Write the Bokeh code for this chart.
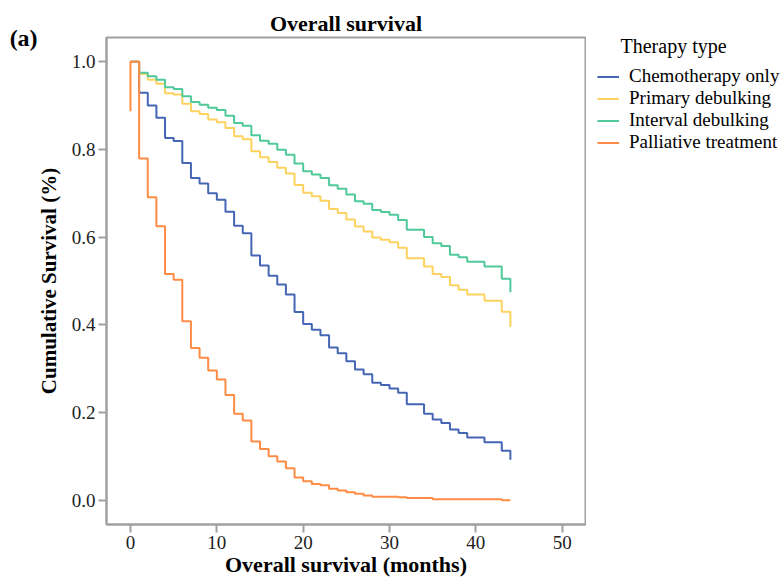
from bokeh.plotting import figure
from bokeh.layouts import row
from bokeh.models import (Range1d, FixedTicker, NumeralTickFormatter, Legend,
                          LegendItem, Label)
from bokeh.embed import file_html
from bokeh.resources import INLINE

# ---- data ----
months = list(range(0, 45))

chemo_only = [1.000, 0.929, 0.900, 0.872, 0.826, 0.819, 0.769, 0.735, 0.722, 0.700,
              0.685, 0.658, 0.626, 0.609, 0.558, 0.535, 0.512, 0.492, 0.469, 0.429,
              0.402, 0.389, 0.376, 0.348, 0.335, 0.317, 0.298, 0.287, 0.268, 0.263,
              0.255, 0.245, 0.219, 0.219, 0.197, 0.184, 0.176, 0.161, 0.153, 0.143,
              0.143, 0.132, 0.132, 0.113, 0.092]

primary_debulking = [1.000, 0.972, 0.959, 0.950, 0.928, 0.925, 0.904, 0.887, 0.881, 0.868,
                     0.862, 0.849, 0.830, 0.823, 0.796, 0.782, 0.771, 0.758, 0.745, 0.719,
                     0.701, 0.693, 0.683, 0.664, 0.655, 0.640, 0.624, 0.613, 0.599, 0.594,
                     0.588, 0.576, 0.552, 0.552, 0.533, 0.516, 0.509, 0.490, 0.480, 0.469,
                     0.469, 0.455, 0.455, 0.430, 0.395]

interval_debulking = [1.000, 0.975, 0.967, 0.959, 0.942, 0.938, 0.921, 0.908, 0.902, 0.895,
                      0.890, 0.877, 0.860, 0.854, 0.832, 0.820, 0.813, 0.799, 0.788, 0.768,
                      0.750, 0.743, 0.735, 0.718, 0.710, 0.697, 0.682, 0.676, 0.662, 0.657,
                      0.651, 0.639, 0.617, 0.617, 0.600, 0.586, 0.580, 0.560, 0.554, 0.544,
                      0.544, 0.533, 0.533, 0.505, 0.474]

palliative_months = [0] + months
palliative = [0.887, 1.000, 0.779, 0.691, 0.625, 0.516, 0.503, 0.408, 0.347, 0.325, 0.296,
              0.275, 0.240, 0.197, 0.182, 0.134, 0.117, 0.100, 0.088, 0.073, 0.052,
              0.043, 0.037, 0.034, 0.026, 0.022, 0.018, 0.015, 0.011, 0.008, 0.008,
              0.008, 0.007, 0.005, 0.005, 0.005, 0.002, 0.002, 0.002, 0.002, 0.002,
              0.002, 0.002, 0.002, 0.000, 0.000]

series_names = ["Chemotherapy only", "Primary debulking", "Interval debulking",
                "Palliative treatment"]
colors = ["#4565b5", "#fdd25e", "#50c99a", "#ff8c45"]

x_ticks = [0, 10, 20, 30, 40, 50]
y_ticks = [0.0, 0.2, 0.4, 0.6, 0.8, 1.0]

SERIF = "Liberation Serif"

y_range = Range1d(-0.0554, 1.0552)

# ---- main plot ----
p = figure(width=586, height=581, output_backend="svg", toolbar_location=None,
           x_range=Range1d(-2.78, 52.70), y_range=y_range,
           title="Overall survival",
           min_border_left=106, min_border_top=37, min_border_right=1,
           min_border_bottom=57)

p.title.text_font = SERIF
p.title.text_font_size = "22px"
p.title.text_font_style = "bold"
p.title.align = "center"
p.title.standoff = 3
p.title.text_color = "black"

p.xgrid.visible = False
p.ygrid.visible = False
p.outline_line_color = "#a0a0a0"
p.outline_line_width = 2
p.outline_line_alpha = 1.0

for ax in (p.xaxis[0], p.yaxis[0]):
    ax.axis_line_color = "#a0a0a0"
    ax.axis_line_width = 2
    ax.major_tick_line_color = "#a0a0a0"
    ax.major_tick_line_width = 2
    ax.major_tick_out = 8
    ax.major_tick_in = 0
    ax.minor_tick_line_color = None
    ax.major_label_text_font = SERIF
    ax.major_label_text_font_size = "19px"
    ax.major_label_text_color = "#222222"
    ax.major_label_standoff = 3
    ax.axis_label_text_font = SERIF
    ax.axis_label_text_font_style = "bold"
    ax.axis_label_text_color = "black"

p.xaxis.ticker = FixedTicker(ticks=x_ticks)
p.yaxis.ticker = FixedTicker(ticks=y_ticks)
p.yaxis.formatter = NumeralTickFormatter(format="0.0")
p.xaxis.axis_label = "Overall survival (months)"
p.yaxis.axis_label = "Cumulative Survival (%)"
p.xaxis.axis_label_text_font_size = "22px"
p.yaxis.axis_label_text_font_size = "21px"
p.xaxis.axis_label_standoff = 0
p.yaxis.axis_label_standoff = 8

data_x = [months, months, months, palliative_months]
data_y = [chemo_only, primary_debulking, interval_debulking, palliative]

for name, col, xs, ys in zip(series_names, colors, data_x, data_y):
    p.step(xs, ys, mode="after", line_color=col, line_width=2)

p.add_layout(Label(x=-14.0, y=1.055, text="(a)", text_font=SERIF,
                   text_font_size="24px", text_font_style="bold",
                   text_baseline="middle", text_align="left", text_color="black"),
             "left")

# ---- legend panel (separate canvas to the right of the plot) ----
pl = figure(width=196, height=581, output_backend="svg", toolbar_location=None,
            x_range=Range1d(0, 196), y_range=y_range,
            min_border_left=0, min_border_right=0, min_border_top=0,
            min_border_bottom=0)
pl.axis.visible = False
pl.xgrid.visible = False
pl.ygrid.visible = False
pl.outline_line_color = None

items = []
for name, col, xs, ys in zip(series_names, colors, data_x, data_y):
    r = pl.step(xs, ys, mode="after", line_color=col, line_width=2, visible=False)
    items.append(LegendItem(label=name, renderers=[r]))

legend = Legend(items=items, location=(11, 371), padding=0, margin=0,
                spacing=0, glyph_width=22, glyph_height=21, label_height=21,
                label_standoff=10, label_text_font=SERIF, label_text_font_size="19px",
                label_text_color="black", border_line_alpha=0, background_fill_alpha=0,
                inactive_fill_alpha=0)
pl.add_layout(legend, "center")

pl.add_layout(Label(x=34, y=1.0347, text="Therapy type", text_font=SERIF,
                    text_font_size="20px", text_baseline="middle", text_align="left",
                    text_color="black"))

layout = row(p, pl, spacing=0)
open("out.html", "w").write(file_html(layout, INLINE))
